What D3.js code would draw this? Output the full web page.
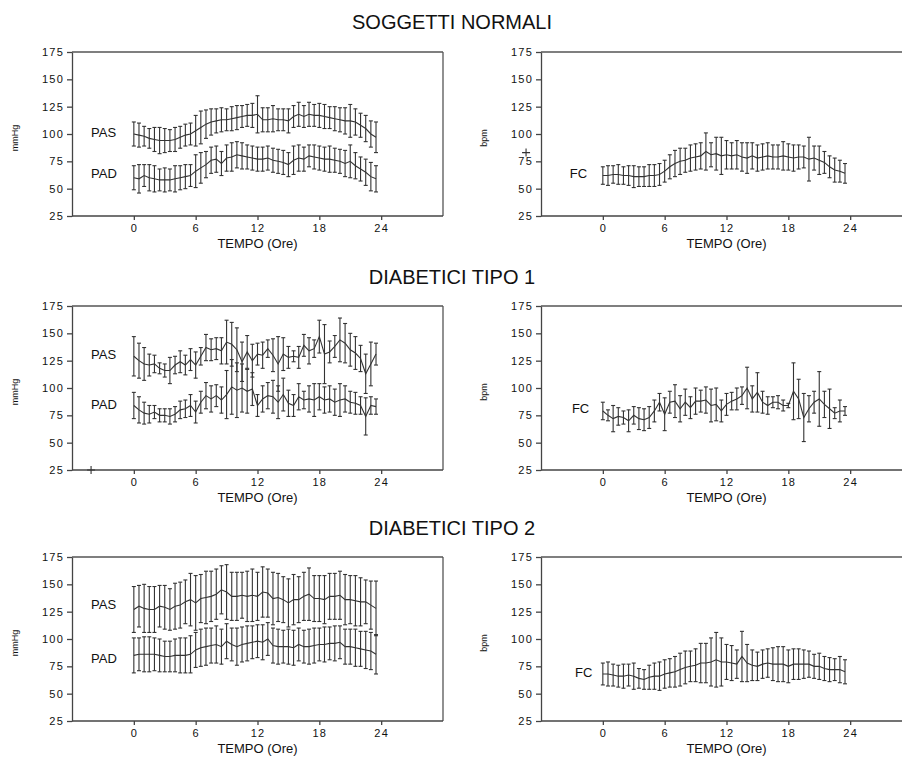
<!DOCTYPE html>
<html>
<head>
<meta charset="utf-8">
<script src="https://cdn.jsdelivr.net/npm/d3@7"></script>
<style>
  html, body { margin: 0; background: #fff; overflow: hidden; }
  #chart { display: block; overflow: hidden; }
  svg text { font-family: "Liberation Sans", Arial, sans-serif; fill: #111; }
  .tick text { font-size: 11px; letter-spacing: 1.2px; }
  .axis path, .axis line { stroke: #444; stroke-width: 1.3; }
</style>
</head>
<body>
<svg id="chart" width="902" height="758"></svg>
<script>
// half-hour readings, 0..23.5 h
const hours = [0, 0.5, 1, 1.5, 2, 2.5, 3, 3.5, 4, 4.5, 5, 5.5, 6, 6.5, 7, 7.5, 8, 8.5, 9, 9.5,
  10, 10.5, 11, 11.5, 12, 12.5, 13, 13.5, 14, 14.5, 15, 15.5, 16, 16.5, 17, 17.5, 18, 18.5, 19, 19.5,
  20, 20.5, 21, 21.5, 22, 22.5, 23, 23.5];

const yTicks = [25, 50, 75, 100, 125, 150, 175];
const xTicks = [0, 6, 12, 18, 24];
const titles = ["SOGGETTI NORMALI", "DIABETICI TIPO 1", "DIABETICI TIPO 2"];

// soggetti normali
const pasN = [100, 99, 98, 96, 95, 94, 94, 94, 95, 97, 99, 100, 103, 106, 109, 111, 112, 113, 113, 114, 115, 116, 117, 117,
  118, 113, 113, 114, 113, 113, 112, 116, 118, 116, 118, 117, 117, 116, 115, 114, 113, 112, 112, 111, 108, 105, 100, 97];
const pasNsd = [11, 11, 9, 9, 11, 12, 11, 10, 11, 10, 10, 10, 14, 15, 13, 12, 11, 11, 10, 11, 11, 10, 10, 11,
  17, 11, 11, 12, 10, 10, 11, 10, 11, 10, 11, 10, 11, 11, 10, 11, 11, 12, 15, 12, 11, 12, 12, 14];
const padN = [60, 59, 62, 60, 59, 58, 58, 58, 59, 60, 61, 62, 66, 69, 72, 76, 77, 73, 78, 79, 81, 80, 79, 78,
  77, 77, 78, 76, 75, 74, 72, 76, 78, 77, 80, 79, 78, 77, 77, 76, 75, 73, 75, 71, 68, 65, 61, 59];
const padNsd = [11, 13, 10, 12, 12, 10, 11, 10, 12, 11, 11, 10, 15, 14, 12, 12, 12, 11, 12, 13, 12, 12, 11, 11,
  11, 11, 11, 11, 11, 11, 11, 13, 12, 11, 10, 11, 11, 11, 12, 11, 11, 12, 15, 12, 11, 12, 13, 12];
const fcN = [62, 62, 63, 63, 62, 62, 61, 61, 61, 62, 62, 63, 66, 70, 73, 75, 76, 78, 79, 80, 84, 81, 82, 80,
  81, 80, 81, 79, 78, 80, 78, 79, 80, 79, 79, 80, 79, 78, 79, 79, 77, 78, 76, 74, 70, 67, 66, 64];
const fcNsd = [8, 9, 8, 9, 8, 9, 10, 9, 9, 10, 10, 10, 10, 11, 12, 12, 11, 12, 12, 12, 17, 11, 15, 17,
  13, 12, 13, 13, 14, 12, 12, 12, 12, 11, 11, 13, 12, 12, 11, 10, 20, 11, 13, 10, 10, 11, 10, 9];

// diabetici tipo 1
const pas1 = [129, 125, 122, 121, 122, 118, 116, 116, 121, 124, 121, 126, 121, 129, 137, 135, 136, 134, 142, 140, 135, 124, 133, 125,
  131, 130, 136, 130, 122, 131, 128, 129, 128, 139, 134, 136, 147, 131, 133, 138, 144, 141, 135, 132, 127, 113, 122, 131];
const pas1sd = [18, 16, 15, 10, 8, 5, 6, 12, 8, 10, 9, 10, 12, 8, 12, 10, 10, 12, 20, 20, 20, 18, 15, 15,
  10, 12, 8, 15, 25, 15, 10, 5, 10, 10, 12, 8, 15, 27, 10, 10, 20, 18, 15, 15, 12, 18, 20, 10];
const pad1 = [84, 80, 77, 76, 78, 75, 75, 74, 76, 80, 81, 84, 78, 87, 93, 90, 93, 89, 94, 101, 98, 100, 97, 99,
  84, 90, 93, 92, 87, 94, 86, 84, 92, 89, 90, 89, 92, 89, 90, 87, 89, 90, 87, 86, 84, 74, 84, 83];
const pad1sd = [12, 12, 10, 8, 6, 6, 6, 7, 7, 8, 8, 10, 10, 10, 12, 12, 10, 12, 22, 25, 25, 22, 20, 15,
  10, 12, 12, 15, 15, 15, 12, 10, 12, 8, 12, 15, 12, 12, 12, 12, 15, 12, 10, 10, 8, 17, 8, 7];
const fc1 = [79, 75, 72, 74, 73, 70, 75, 72, 71, 73, 79, 87, 76, 87, 88, 81, 87, 82, 88, 88, 89, 84, 85, 79,
  85, 88, 90, 93, 100, 90, 96, 87, 84, 87, 87, 84, 84, 97, 90, 73, 81, 87, 90, 85, 81, 77, 79, 79];
const fc1sd = [8, 5, 12, 8, 6, 10, 8, 10, 10, 10, 10, 8, 15, 10, 15, 12, 12, 10, 12, 10, 12, 15, 15, 10,
  10, 8, 10, 8, 19, 12, 18, 10, 8, 5, 6, 5, 2, 26, 18, 22, 12, 10, 25, 12, 18, 5, 10, 4];

// diabetici tipo 2
const pas2 = [127, 130, 128, 127, 127, 130, 129, 127, 130, 131, 134, 136, 133, 137, 138, 139, 141, 145, 143, 139, 139, 140, 139, 140,
  139, 143, 142, 137, 138, 136, 133, 136, 136, 139, 141, 137, 137, 136, 139, 139, 140, 136, 136, 135, 134, 134, 131, 128];
const pas2sd = [21, 19, 22, 21, 21, 19, 20, 19, 21, 21, 20, 24, 25, 22, 24, 23, 23, 22, 25, 22, 22, 21, 23, 24,
  22, 23, 22, 24, 22, 21, 22, 23, 21, 22, 24, 21, 21, 22, 21, 21, 22, 23, 22, 23, 22, 20, 22, 25];
const pad2 = [85, 86, 86, 86, 86, 85, 84, 84, 85, 85, 85, 86, 90, 92, 93, 94, 95, 93, 98, 95, 93, 95, 96, 97,
  98, 97, 100, 94, 93, 93, 93, 92, 95, 93, 93, 94, 95, 95, 96, 96, 97, 93, 93, 92, 91, 90, 89, 86];
const pad2sd = [16, 15, 16, 16, 15, 15, 14, 14, 15, 16, 16, 17, 16, 17, 17, 16, 17, 16, 16, 15, 17, 16, 16, 15,
  15, 16, 15, 16, 16, 15, 16, 16, 15, 15, 16, 16, 15, 16, 15, 16, 15, 16, 16, 17, 16, 17, 17, 18];
const fc2 = [68, 68, 67, 66, 66, 67, 66, 64, 63, 65, 66, 66, 68, 69, 70, 72, 74, 75, 76, 78, 78, 79, 81, 79,
  79, 78, 77, 84, 78, 76, 75, 77, 78, 77, 77, 77, 75, 77, 77, 77, 77, 75, 75, 73, 72, 72, 72, 70];
const fc2sd = [10, 11, 10, 10, 11, 10, 12, 9, 9, 11, 12, 13, 13, 13, 14, 15, 15, 14, 15, 18, 18, 22, 25, 22,
  16, 16, 13, 23, 17, 14, 13, 13, 13, 15, 16, 16, 15, 14, 14, 13, 12, 11, 12, 11, 11, 10, 12, 11];

// layout
const W = 902;
const rowTops = [52, 306, 557];
const plotH = 164;
const leftX = [72, 443];
const rightX = [541, 912];
const titleY = [29, 284, 535];

const svg = d3.select("#chart");

const bars = (g, x, y, mean, sd) => {
  const pts = hours.map((h, i) => ({ h: h, m: mean[i], s: sd[i] }));
  const eb = g.append("g").attr("stroke", "#333").attr("stroke-width", 1.1).attr("fill", "none");
  eb.selectAll("line.v").data(pts).join("line").attr("class", "v")
    .attr("x1", d => x(d.h)).attr("x2", d => x(d.h))
    .attr("y1", d => y(d.m + d.s)).attr("y2", d => y(d.m - d.s));
  eb.selectAll("line.t").data(pts).join("line").attr("class", "t")
    .attr("x1", d => x(d.h) - 2).attr("x2", d => x(d.h) + 2)
    .attr("y1", d => y(d.m + d.s)).attr("y2", d => y(d.m + d.s));
  eb.selectAll("line.b").data(pts).join("line").attr("class", "b")
    .attr("x1", d => x(d.h) - 2).attr("x2", d => x(d.h) + 2)
    .attr("y1", d => y(d.m - d.s)).attr("y2", d => y(d.m - d.s));
  g.append("path").datum(pts)
    .attr("fill", "none").attr("stroke", "#333").attr("stroke-width", 1.1)
    .attr("d", d3.line().x(d => x(d.h)).y(d => y(d.m)));
};

const panel = (xr, top, unit, series) => {
  const g = svg.append("g");
  const x = d3.scaleLinear().domain([-6, 30]).range(xr);
  const y = d3.scaleLinear().domain([25, 175]).range([top + plotH, top]);

  // frame: top line, right line only when it falls inside the page
  const right = Math.min(xr[1], W);
  g.append("line")
    .attr("x1", xr[0]).attr("x2", right).attr("y1", top).attr("y2", top)
    .attr("stroke", "#555").attr("stroke-width", 1.3);
  if (xr[1] < W) {
    g.append("line")
      .attr("x1", xr[1]).attr("x2", xr[1]).attr("y1", top).attr("y2", top + plotH)
      .attr("stroke", "#555").attr("stroke-width", 1.3);
  }

  g.append("g").attr("class", "axis")
    .attr("transform", "translate(" + xr[0] + ",0)")
    .call(d3.axisLeft(y).tickValues(yTicks).tickSize(5).tickSizeOuter(0).tickPadding(4))
    .selectAll("text").attr("dx", "1px");

  const xa = g.append("g").attr("class", "axis")
    .attr("transform", "translate(0," + (top + plotH) + ")")
    .call(d3.axisBottom(x).tickValues(xTicks).tickSize(4).tickSizeOuter(0).tickPadding(4));
  xa.select(".domain").attr("d", "M" + xr[0] + ",0H" + right);

  g.append("text")
    .attr("x", x(12)).attr("y", top + plotH + 29)
    .attr("text-anchor", "middle").attr("dominant-baseline", "middle")
    .style("font-size", "13px")
    .text("TEMPO (Ore)");

  g.append("text")
    .attr("transform", "translate(" + (xr[0] - 56) + "," + (top + plotH / 2 + 4) + ") rotate(-90)")
    .attr("text-anchor", "middle").attr("dominant-baseline", "middle")
    .style("font-size", "9px")
    .text(unit);

  series.forEach(s => {
    bars(g, x, y, s.mean, s.sd);
    g.append("text")
      .attr("x", x(s.lx)).attr("y", y(s.ly))
      .attr("dominant-baseline", "middle")
      .style("font-size", "13px")
      .text(s.label);
  });
  return { g: g, x: x, y: y };
};

titles.forEach((t, i) => {
  svg.append("text")
    .attr("x", 452).attr("y", titleY[i])
    .attr("text-anchor", "middle")
    .style("font-size", "20px")
    .text(t);
});

panel(leftX, rowTops[0], "mmHg", [
  { mean: pasN, sd: pasNsd, label: "PAS", lx: -4.15, ly: 100 },
  { mean: padN, sd: padNsd, label: "PAD", lx: -4.15, ly: 63 }
]);
const p2 = panel(rightX, rowTops[0], "bpm", [
  { mean: fcN, sd: fcNsd, label: "FC", lx: -3.2, ly: 63 }
]);
const p3 = panel(leftX, rowTops[1], "mmHg", [
  { mean: pas1, sd: pas1sd, label: "PAS", lx: -4.15, ly: 130 },
  { mean: pad1, sd: pad1sd, label: "PAD", lx: -4.15, ly: 84 }
]);
panel(rightX, rowTops[1], "bpm", [
  { mean: fc1, sd: fc1sd, label: "FC", lx: -3.0, ly: 80 }
]);
panel(leftX, rowTops[2], "mmHg", [
  { mean: pas2, sd: pas2sd, label: "PAS", lx: -4.15, ly: 131 },
  { mean: pad2, sd: pad2sd, label: "PAD", lx: -4.15, ly: 81 }
]);
panel(rightX, rowTops[2], "bpm", [
  { mean: fc2, sd: fc2sd, label: "FC", lx: -2.7, ly: 68 }
]);

// stray "+" marks present in the original scan
const cross = (p, h, v) => {
  p.g.append("path")
    .attr("d", "M" + (p.x(h) - 4) + "," + p.y(v) + "h8M" + p.x(h) + "," + (p.y(v) - 4) + "v8")
    .attr("stroke", "#333").attr("stroke-width", 1.1);
};
cross(p2, -7.45, 83);
cross(p3, -4.15, 25);
</script>
</body>
</html>
